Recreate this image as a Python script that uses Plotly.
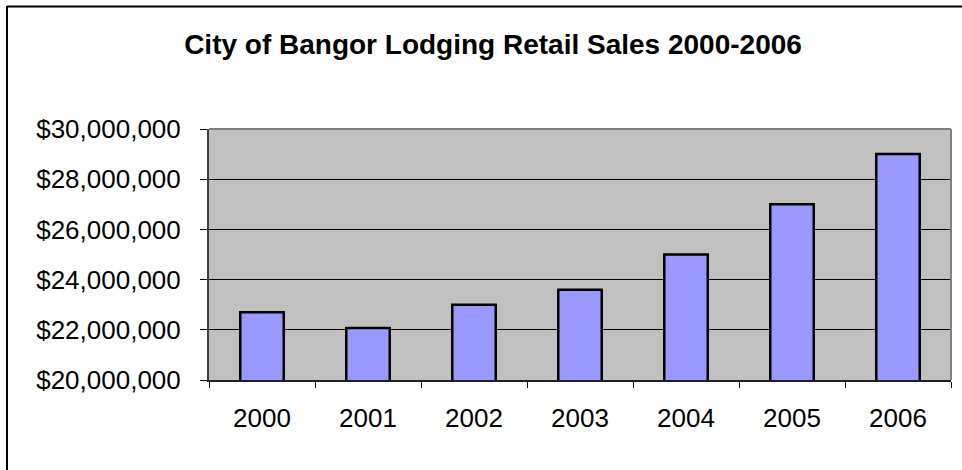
import plotly.graph_objects as go

# Annual lodging retail sales, City of Bangor
years = ["2000", "2001", "2002", "2003", "2004", "2005", "2006"]
sales = [22700000, 22070000, 23000000, 23600000, 25000000, 27000000, 29000000]

y_ticks = [20000000, 22000000, 24000000, 26000000, 28000000, 30000000]

W, H = 962, 470
L, R, T, B = 209, 11, 129, 90
pw, ph = W - L - R, H - T - B


def px_x(x):
    return (x - L) / pw


def px_y(y):
    return (H - B - y) / ph


fig = go.Figure()
fig.add_trace(go.Bar(
    x=years,
    y=sales,
    width=0.41,
    marker=dict(color="#9999FF", line=dict(color="#000000", width=2.5)),
))

fig.update_layout(
    width=W,
    height=H,
    margin=dict(l=L, r=R, t=T, b=B),
    paper_bgcolor="#FFFFFF",
    plot_bgcolor="#C0C0C0",
    showlegend=False,
    font=dict(family="Liberation Sans, Arial, sans-serif", color="#000000", size=26),
    title=dict(
        text="<b>City of Bangor Lodging Retail Sales 2000-2006</b>",
        font=dict(size=28, family="Liberation Sans, Arial, sans-serif", color="#000000"),
        x=493 / W,
        xanchor="center",
        xref="container",
        y=1 - 44 / H,
        yanchor="middle",
        yref="container",
    ),
    bargap=0.59,
)

fig.update_yaxes(
    range=[20000000, 30000000],
    tickvals=y_ticks,
    tickformat="$,.0f",
    showgrid=True,
    gridcolor="#000000",
    gridwidth=1,
    showline=True,
    linecolor="#404040",
    linewidth=2,
    ticks="outside",
    ticklen=7,
    tickcolor="#000000",
    tickwidth=1,
    ticklabelstandoff=14,
    zeroline=False,
    tickfont=dict(size=26),
)

fig.update_xaxes(
    type="category",
    showgrid=False,
    showline=True,
    linecolor="#202020",
    linewidth=2,
    ticks="outside",
    tickson="boundaries",
    ticklen=6,
    tickcolor="#000000",
    tickwidth=1,
    ticklabelstandoff=14,
    tickfont=dict(size=26),
)

# plot-area border on top and right
fig.add_shape(type="line", xref="paper", yref="paper", x0=0, x1=1, y0=1, y1=1,
              line=dict(color="#808080", width=2), layer="above")
fig.add_shape(type="line", xref="paper", yref="paper", x0=1, x1=1, y0=0, y1=1,
              line=dict(color="#808080", width=2), layer="above")

# outer chart frame: top and left edges
fig.add_shape(type="line", xref="paper", yref="paper",
              x0=px_x(7), x1=px_x(W + 5), y0=px_y(6.5), y1=px_y(6.5),
              line=dict(color="#000000", width=2), layer="above")
fig.add_shape(type="line", xref="paper", yref="paper",
              x0=px_x(7), x1=px_x(7), y0=px_y(6), y1=px_y(H + 5),
              line=dict(color="#000000", width=2), layer="above")

fig.write_html("out.html")
